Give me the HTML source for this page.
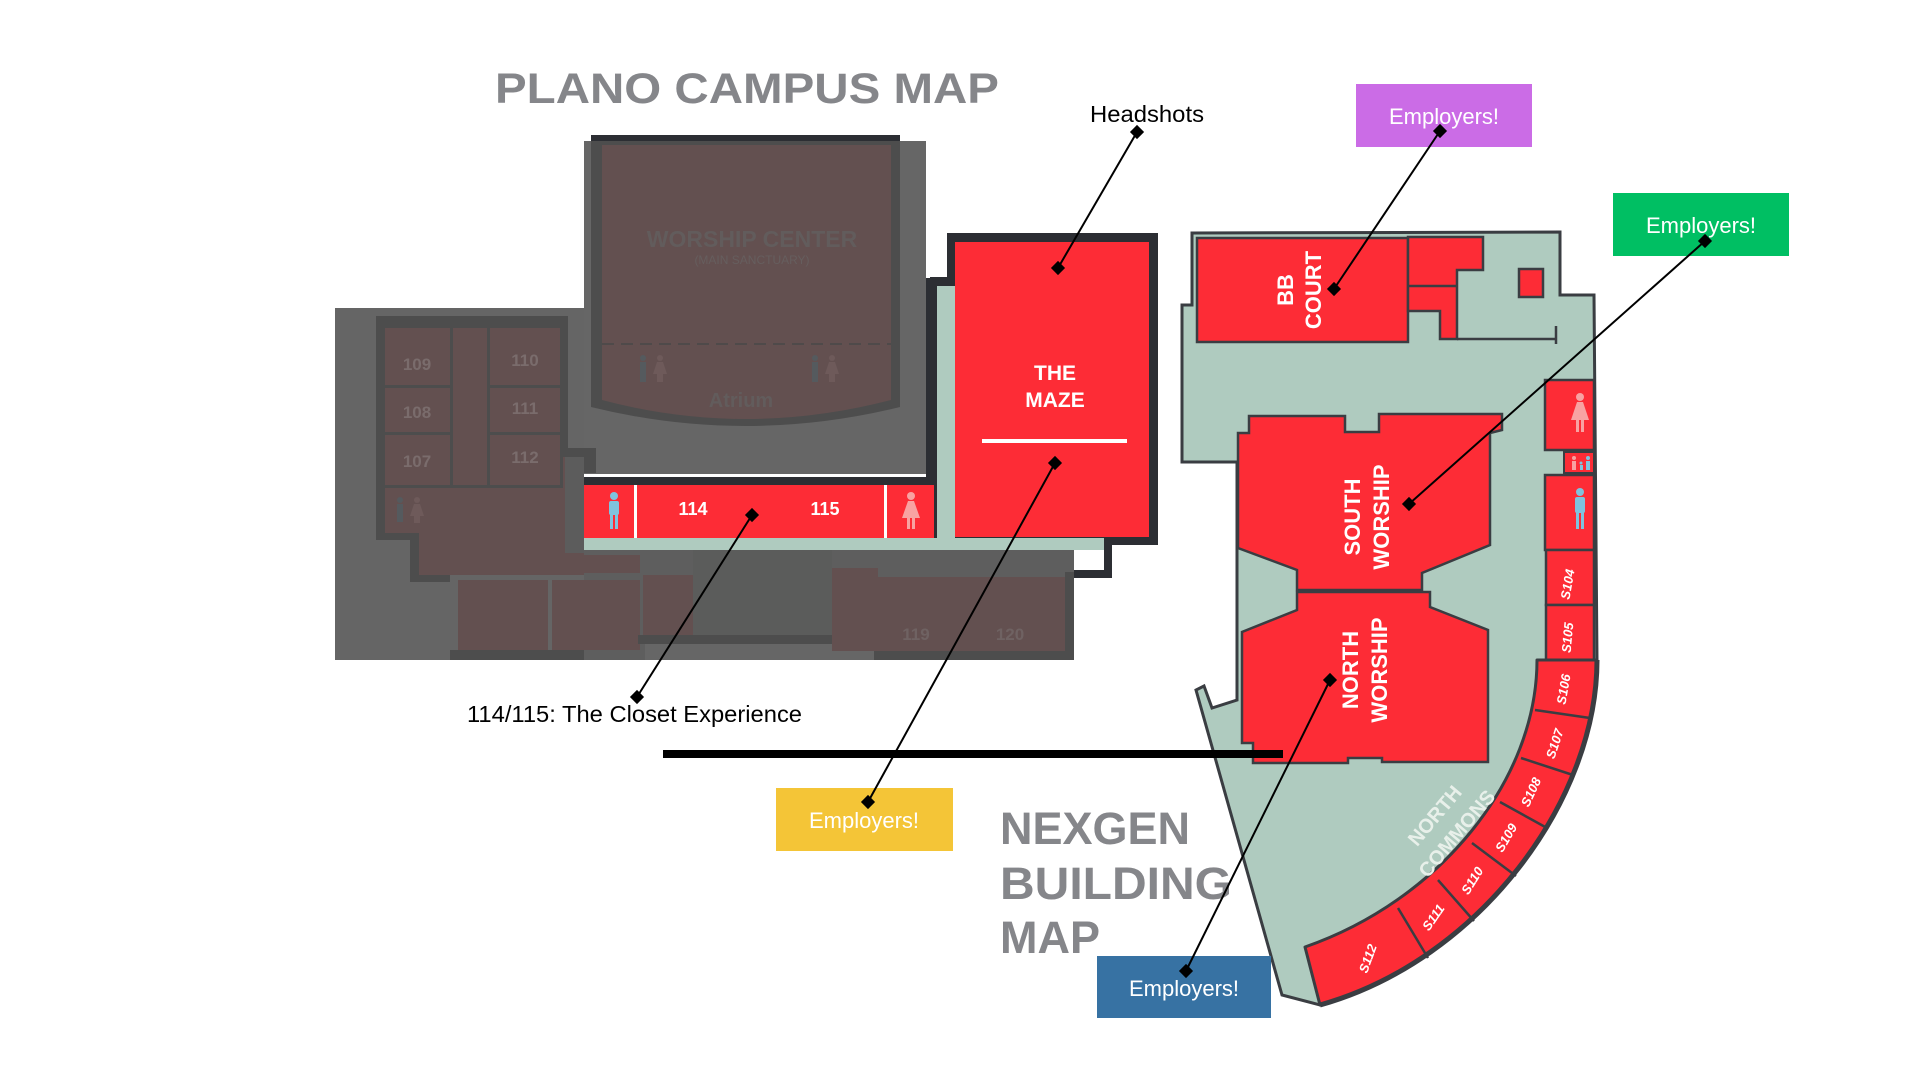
<!DOCTYPE html>
<html><head><meta charset="utf-8"><style>
html,body{margin:0;padding:0;background:#fff;}
svg{display:block;}
text{font-family:"Liberation Sans",sans-serif;}
</style></head><body>
<svg width="1920" height="1080" viewBox="0 0 1920 1080" xmlns="http://www.w3.org/2000/svg">
<rect width="1920" height="1080" fill="#fff"/>

<!-- Title -->
<text x="495" y="103" font-size="43" font-weight="bold" fill="#85868a" textLength="504" lengthAdjust="spacingAndGlyphs">PLANO CAMPUS MAP</text>

<!-- LEFT BUILDING (gray) -->
<rect x="335" y="308" width="250" height="352" fill="#656565"/>
<rect x="584" y="141" width="342" height="335" fill="#666"/>
<rect x="584" y="550" width="490" height="110" fill="#5e5e5e"/>
<path d="M376,316 H568 V448 H596 V473 H584 V550 H570 V575 H450 V660 H450 V582 H410 V540 H376 Z" fill="#4d4d4d"/>
<rect x="385" y="328" width="65" height="57" fill="#635050"/>
<rect x="385" y="388" width="65" height="44" fill="#635050"/>
<rect x="385" y="435" width="65" height="50" fill="#635050"/>
<rect x="453" y="328" width="34" height="157" fill="#635050"/>
<rect x="490" y="328" width="70" height="57" fill="#635050"/>
<rect x="490" y="388" width="70" height="44" fill="#635050"/>
<rect x="490" y="435" width="70" height="50" fill="#635050"/>
<path d="M385,488 H563 V457 H565 V553 H584 V575 H419 V533 H385 Z" fill="#635050"/>
<rect x="565" y="457" width="19" height="96" fill="#5c5c5c"/>
<rect x="458" y="580" width="90" height="70" fill="#635050"/>
<rect x="552" y="580" width="88" height="70" fill="#635050"/>
<rect x="450" y="650" width="134" height="10" fill="#4d4d4d"/>
<text x="417" y="370" font-size="17" font-weight="bold" fill="#7a6c6c" text-anchor="middle">109</text>
<text x="417" y="418" font-size="17" font-weight="bold" fill="#7a6c6c" text-anchor="middle">108</text>
<text x="417" y="467" font-size="17" font-weight="bold" fill="#7a6c6c" text-anchor="middle">107</text>
<text x="525" y="366" font-size="17" font-weight="bold" fill="#7a6c6c" text-anchor="middle">110</text>
<text x="525" y="414" font-size="17" font-weight="bold" fill="#7a6c6c" text-anchor="middle">111</text>
<text x="525" y="463" font-size="17" font-weight="bold" fill="#7a6c6c" text-anchor="middle">112</text>
<g fill="#555a5e"><circle cx="400" cy="500" r="3"/><rect x="397" y="504" width="6" height="18"/></g>
<g fill="#6e5a5a"><circle cx="417" cy="500" r="3"/><path d="M414,504 H420 L424,516 H410 Z"/><rect x="414" y="516" width="6" height="7"/></g>

<!-- Worship center -->
<rect x="591" y="135" width="309" height="6" fill="#2c2e33"/>
<path d="M591,141 H900 V407 Q745,445 591,407 Z" fill="#4d4d4d"/>
<path d="M602,145 H891 V400 Q745,438 602,400 Z" fill="#635050"/>
<line x1="602" y1="344" x2="891" y2="344" stroke="#4f4a4a" stroke-width="2" stroke-dasharray="12,7"/>
<text x="752" y="247" font-size="23" font-weight="bold" fill="#625c5c" text-anchor="middle">WORSHIP CENTER</text>
<text x="752" y="264" font-size="12" fill="#665e5e" text-anchor="middle">(MAIN SANCTUARY)</text>
<text x="741" y="407" font-size="20" font-weight="bold" fill="#625c5c" text-anchor="middle">Atrium</text>
<g fill="#555a5e"><circle cx="643" cy="358" r="3"/><rect x="640" y="362" width="6" height="20"/><circle cx="815" cy="358" r="3"/><rect x="812" y="362" width="6" height="20"/></g>
<g fill="#6e5a5a"><circle cx="660" cy="358" r="3"/><path d="M657,362 H663 L667,374 H653 Z"/><rect x="657" y="374" width="6" height="8"/><circle cx="832" cy="358" r="3"/><path d="M829,362 H835 L839,374 H825 Z"/><rect x="829" y="374" width="6" height="8"/></g>

<!-- The Maze outline -->
<path d="M930,277 H947 V233 H1158 V545 H1112 V578 H1074 V570 H1104 V538 H930 Z" fill="#2c2e33"/>
<rect x="955" y="242" width="194" height="295" fill="#fd2c36"/>

<!-- corridor strip -->
<rect x="584" y="474" width="352" height="4" fill="#fff"/>
<rect x="584" y="477" width="352" height="9" fill="#2c2e33"/>
<rect x="926" y="278" width="10" height="208" fill="#2c2e33"/>
<rect x="584" y="485" width="350" height="53" fill="#fd2c36"/>
<rect x="584" y="538" width="520" height="12" fill="#afcbbf"/>
<rect x="937" y="286" width="18" height="264" fill="#afcbbf"/>
<rect x="634" y="485" width="3" height="53" fill="#fff"/>
<rect x="884" y="485" width="3" height="53" fill="#fff"/>
<text x="693" y="515" font-size="18" font-weight="bold" fill="#fff" text-anchor="middle">114</text>
<text x="825" y="515" font-size="18" font-weight="bold" fill="#fff" text-anchor="middle">115</text>
<g fill="#7fc3de"><circle cx="614" cy="496" r="4"/><rect x="609" y="501" width="10" height="14" rx="2"/><rect x="610" y="514" width="3" height="15"/><rect x="615" y="514" width="3" height="15"/></g>
<g fill="#f8a2a2"><circle cx="911" cy="496" r="4"/><path d="M908,501 H914 L920,518 H902 Z"/><rect x="907" y="518" width="3" height="11"/><rect x="912" y="518" width="3" height="11"/></g>

<!-- bottom strip rooms -->
<rect x="570" y="555" width="70" height="18" fill="#635050"/>
<rect x="643" y="575" width="50" height="60" fill="#635050"/>
<rect x="693" y="550" width="139" height="85" fill="#5b5c5b"/>
<rect x="638" y="635" width="244" height="9" fill="#4d4d4d"/>
<rect x="645" y="644" width="229" height="16" fill="#666"/>
<rect x="832" y="568" width="46" height="83" fill="#635050"/>
<rect x="878" y="577" width="187" height="74" fill="#635050"/>
<rect x="1065" y="572" width="9" height="88" fill="#4d4d4d"/>
<rect x="874" y="651" width="200" height="9" fill="#4d4d4d"/>
<text x="916" y="640" font-size="17" font-weight="bold" fill="#6f6262" text-anchor="middle">119</text>
<text x="1010" y="640" font-size="17" font-weight="bold" fill="#6f6262" text-anchor="middle">120</text>

<rect x="982" y="439" width="145" height="4" fill="#fff"/>
<text x="1055" y="380" font-size="21" font-weight="bold" fill="#fff" text-anchor="middle">THE</text>
<text x="1055" y="407" font-size="21" font-weight="bold" fill="#fff" text-anchor="middle">MAZE</text>

<!-- NEXGEN building -->
<path d="M1192,233 L1560,232 L1560,295 L1594,295 L1597,660 C1597,800 1480,960 1320,1005 L1282,995 L1196,690 L1204,686 L1212,708 L1237,700 L1237,462 L1182,462 L1182,305 L1192,305 Z" fill="#afcbbf" stroke="#3a3d42" stroke-width="3" stroke-linejoin="miter"/>
<rect x="1197" y="238" width="211" height="104" fill="#fd2c36" stroke="#3a3d42" stroke-width="2.5"/>
<path d="M1408,237 H1483 V270 H1457 V339 H1440 V311 H1408 Z" fill="#fd2c36" stroke="#3a3d42" stroke-width="2.5"/>
<line x1="1408" y1="286" x2="1457" y2="286" stroke="#3a3d42" stroke-width="2.5"/>
<rect x="1519" y="269" width="24" height="28" fill="#fd2c36" stroke="#3a3d42" stroke-width="2.5"/>
<path d="M1457,339 H1556 M1556,326 V344" stroke="#3a3d42" stroke-width="2.5" fill="none"/>
<text transform="translate(1293,290) rotate(-90)" font-size="22" font-weight="bold" fill="#fff" text-anchor="middle">BB</text>
<text transform="translate(1321,290) rotate(-90)" font-size="22" font-weight="bold" fill="#fff" text-anchor="middle">COURT</text>
<path d="M1249,416 L1345,416 L1345,432 L1379,432 L1379,414 L1502,414 L1502,430 L1490,433 L1490,545 L1422,573 L1422,590 L1297,590 L1297,570 L1238,548 L1238,433 L1249,433 Z" fill="#fd2c36" stroke="#3a3d42" stroke-width="2.5"/>
<text transform="translate(1360,517) rotate(-90)" font-size="22" font-weight="bold" fill="#fff" text-anchor="middle">SOUTH</text>
<text transform="translate(1389,517) rotate(-90)" font-size="22" font-weight="bold" fill="#fff" text-anchor="middle">WORSHIP</text>
<path d="M1297,592 L1430,592 L1430,607 L1488,630 L1488,762 L1382,762 L1382,758 L1348,758 L1348,763 L1253,763 L1253,743 L1242,743 L1242,632 L1297,610 Z" fill="#fd2c36" stroke="#3a3d42" stroke-width="2.5"/>
<text transform="translate(1358,670) rotate(-90)" font-size="22" font-weight="bold" fill="#fff" text-anchor="middle">NORTH</text>
<text transform="translate(1387,670) rotate(-90)" font-size="22" font-weight="bold" fill="#fff" text-anchor="middle">WORSHIP</text>
<!-- right column -->
<rect x="1545" y="380" width="49" height="70" fill="#fd2c36" stroke="#3a3d42" stroke-width="2.5"/>
<rect x="1564" y="452" width="30" height="21" fill="#fd2c36" stroke="#3a3d42" stroke-width="2"/>
<rect x="1545" y="475" width="49" height="75" fill="#fd2c36" stroke="#3a3d42" stroke-width="2.5"/>
<rect x="1546" y="550" width="48" height="55" fill="#fd2c36" stroke="#3a3d42" stroke-width="2.5"/>
<rect x="1546" y="605" width="48" height="55" fill="#fd2c36" stroke="#3a3d42" stroke-width="2.5"/>
<g fill="#f8a2a2"><circle cx="1580" cy="397" r="4"/><path d="M1577,402 H1583 L1589,420 H1571 Z"/><rect x="1576" y="420" width="3" height="12"/><rect x="1581" y="420" width="3" height="12"/></g>
<g fill="#7fc3de"><circle cx="1580" cy="492" r="4"/><rect x="1575" y="497" width="10" height="16" rx="2"/><rect x="1576" y="512" width="3" height="17"/><rect x="1581" y="512" width="3" height="17"/></g>
<g fill="#f8a2a2"><circle cx="1574" cy="458" r="2"/><rect x="1572" y="461" width="4" height="9"/></g>
<g fill="#7fc3de"><circle cx="1588" cy="458" r="2"/><rect x="1586" y="461" width="4" height="9"/><circle cx="1581" cy="463" r="1.5"/><rect x="1580" y="465" width="3" height="5"/></g>
<text transform="translate(1572,585) rotate(-80)" font-size="13" font-weight="bold" font-style="italic" fill="#fff" text-anchor="middle">S104</text>
<text transform="translate(1572,638) rotate(-85)" font-size="13" font-weight="bold" font-style="italic" fill="#fff" text-anchor="middle">S105</text>
<path d="M1537,660 L1597,660 C1597,800 1480,960 1320,1005 L1305,947 C1440,900 1537,780 1537,660 Z" fill="#fd2c36" stroke="#3a3d42" stroke-width="3" stroke-linejoin="round"/>
<path d="M1597,660 C1597,800 1480,960 1320,1005" fill="none" stroke="#3a3d42" stroke-width="5"/>
<g stroke="#3a3d42" stroke-width="2.5">
<line x1="1535" y1="710" x2="1590" y2="718"/>
<line x1="1521" y1="758" x2="1573" y2="775"/>
<line x1="1500" y1="802" x2="1547" y2="828"/>
<line x1="1472" y1="843" x2="1516" y2="876"/>
<line x1="1438" y1="880" x2="1474" y2="921"/>
<line x1="1398" y1="908" x2="1428" y2="958"/>
</g>
<g font-size="13" font-weight="bold" font-style="italic" fill="#fff" text-anchor="middle">
<text transform="translate(1568,690) rotate(-80)">S106</text>
<text transform="translate(1559,745) rotate(-72)">S107</text>
<text transform="translate(1535,794) rotate(-65)">S108</text>
<text transform="translate(1510,840) rotate(-60)">S109</text>
<text transform="translate(1476,883) rotate(-58)">S110</text>
<text transform="translate(1437,920) rotate(-55)">S111</text>
<text transform="translate(1372,960) rotate(-70)">S112</text>
</g>
<text transform="translate(1440,820) rotate(-50)" font-size="20" font-weight="bold" fill="#e8f0ea" text-anchor="middle">NORTH</text>
<text transform="translate(1462,838) rotate(-50)" font-size="20" font-weight="bold" fill="#e8f0ea" text-anchor="middle">COMMONS</text>

<!-- NEXGEN title -->
<g font-size="45" font-weight="bold" fill="#85868a">
<text x="1000" y="844">NEXGEN</text>
<text x="1000" y="899" textLength="232" lengthAdjust="spacingAndGlyphs">BUILDING</text>
<text x="1000" y="953">MAP</text>
</g>

<rect x="663" y="750" width="620" height="8" fill="#000"/>

<!-- Boxes -->
<rect x="1356" y="84" width="176" height="63" fill="#cb6ce6"/>
<text x="1444" y="124" font-size="22" fill="#fff" text-anchor="middle">Employers!</text>
<rect x="1613" y="193" width="176" height="63" fill="#00bf63"/>
<text x="1701" y="233" font-size="22" fill="#fff" text-anchor="middle">Employers!</text>
<rect x="776" y="788" width="177" height="63" fill="#f4c537"/>
<text x="864" y="828" font-size="22" fill="#fff" text-anchor="middle">Employers!</text>
<rect x="1097" y="956" width="174" height="62" fill="#3772a3"/>
<text x="1184" y="996" font-size="22" fill="#fff" text-anchor="middle">Employers!</text>

<!-- Labels -->
<text x="1090" y="122" font-size="23" fill="#000" textLength="114" lengthAdjust="spacingAndGlyphs">Headshots</text>
<text x="467" y="722" font-size="23" fill="#000" textLength="335" lengthAdjust="spacingAndGlyphs">114/115: The Closet Experience</text>

<!-- Connectors -->
<g stroke="#000" stroke-width="2" fill="none">
<line x1="1137" y1="132" x2="1058" y2="268"/>
<line x1="1440" y1="131" x2="1334" y2="289"/>
<line x1="1705" y1="241" x2="1409" y2="504"/>
<line x1="752" y1="515" x2="637" y2="697"/>
<line x1="1055" y1="463" x2="868" y2="802"/>
<line x1="1330" y1="680" x2="1186" y2="971"/>
</g>
<g fill="#000">
<rect x="-5" y="-5" width="10" height="10" transform="translate(1137,132) rotate(45)"/>
<rect x="-5" y="-5" width="10" height="10" transform="translate(1058,268) rotate(45)"/>
<rect x="-5" y="-5" width="10" height="10" transform="translate(1440,131) rotate(45)"/>
<rect x="-5" y="-5" width="10" height="10" transform="translate(1334,289) rotate(45)"/>
<rect x="-5" y="-5" width="10" height="10" transform="translate(1705,241) rotate(45)"/>
<rect x="-5" y="-5" width="10" height="10" transform="translate(1409,504) rotate(45)"/>
<rect x="-5" y="-5" width="10" height="10" transform="translate(752,515) rotate(45)"/>
<rect x="-5" y="-5" width="10" height="10" transform="translate(637,697) rotate(45)"/>
<rect x="-5" y="-5" width="10" height="10" transform="translate(1055,463) rotate(45)"/>
<rect x="-5" y="-5" width="10" height="10" transform="translate(868,802) rotate(45)"/>
<rect x="-5" y="-5" width="10" height="10" transform="translate(1330,680) rotate(45)"/>
<rect x="-5" y="-5" width="10" height="10" transform="translate(1186,971) rotate(45)"/>
</g>
</svg>
</body></html>
